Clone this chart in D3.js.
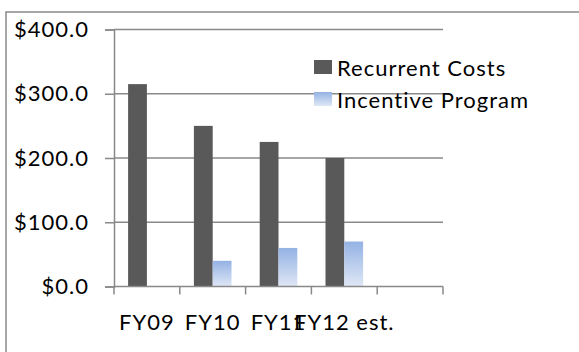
<!DOCTYPE html>
<html>
<head>
<meta charset="utf-8">
<script src="https://cdn.jsdelivr.net/npm/d3@7"></script>
<style>
  html, body { margin: 0; padding: 0; background: #fff; }
  svg { display: block; }
  text { font-family: Lato, "Open Sans", sans-serif; fill: #000; font-variant-ligatures: none; letter-spacing: 1px; }
</style>
</head>
<body>
<svg id="chart" width="579" height="352"></svg>
<script>
// Fiscal years (the last slot on the category axis is empty)
const categories = ["FY09", "FY10", "FY11", "FY12 est.", ""];
const recurrentCosts = [315, 250, 225, 200, null];
const incentiveProgram = [null, 40, 60, 70, null];
const yTicks = [0, 100, 200, 300, 400];
const seriesNames = ["Recurrent Costs", "Incentive Program"];

const svg = d3.select("#chart");
const gray = "#898989";

// Outer chart frame
svg.append("rect")
  .attr("x", 6).attr("y", 12)
  .attr("width", 640).attr("height", 400)
  .attr("fill", "#fff")
  .attr("stroke", gray).attr("stroke-width", 1.5);

const plot = { left: 114, right: 443, top: 29.5, bottom: 286.5 };

const x = d3.scaleBand()
  .domain(categories.map((d, i) => i))
  .range([plot.left, plot.right])
  .paddingInner(0).paddingOuter(0);

const y = d3.scaleLinear()
  .domain([0, 400])
  .range([plot.bottom, plot.top]);

// Each category holds two bars plus a 150% gap
const barW = x.bandwidth() / 3.5;
const gapW = barW * 0.75;

// Gradient for the incentive series
const defs = svg.append("defs");
const grad = defs.append("linearGradient")
  .attr("id", "incentiveFill")
  .attr("x1", 0).attr("y1", 0).attr("x2", 0).attr("y2", 1);
grad.append("stop").attr("offset", "0%").attr("stop-color", "#94b2e4");
grad.append("stop").attr("offset", "100%").attr("stop-color", "#dfe7f5");

// Horizontal gridlines
svg.append("g")
  .selectAll("line")
  .data(yTicks.filter(d => d > 0))
  .join("line")
  .attr("x1", plot.left).attr("x2", plot.right)
  .attr("y1", d => y(d)).attr("y2", d => y(d))
  .attr("stroke", gray).attr("stroke-width", 1.5);

// Y axis with outward ticks
const yAxis = svg.append("g")
  .attr("transform", `translate(${plot.left},0)`)
  .call(d3.axisLeft(y).tickValues(yTicks).tickSize(9).tickPadding(16)
    .tickFormat(d => "$" + d3.format(".1f")(d)));
yAxis.select(".domain").attr("stroke", gray).attr("stroke-width", 1.5);
yAxis.selectAll(".tick line").attr("stroke", gray).attr("stroke-width", 1.5);
yAxis.selectAll(".tick text")
  .style("font-family", "Lato, 'Open Sans', sans-serif")
  .style("font-size", "22px").attr("fill", "#000");

// Bars
const bars = svg.append("g");
bars.selectAll("rect.recurrent")
  .data(recurrentCosts.map((v, i) => ({ v, i })).filter(d => d.v != null))
  .join("rect")
  .attr("class", "recurrent")
  .attr("x", d => x(d.i) + gapW)
  .attr("width", barW)
  .attr("y", d => y(d.v))
  .attr("height", d => y(0) - y(d.v))
  .attr("fill", "#595959");

bars.selectAll("rect.incentive")
  .data(incentiveProgram.map((v, i) => ({ v, i })).filter(d => d.v != null))
  .join("rect")
  .attr("class", "incentive")
  .attr("x", d => x(d.i) + gapW + barW)
  .attr("width", barW)
  .attr("y", d => y(d.v))
  .attr("height", d => y(0) - y(d.v))
  .attr("fill", "url(#incentiveFill)");

// X axis with ticks between categories
const xEdges = categories.map((d, i) => x(i)).concat([plot.right]);
const xAxisG = svg.append("g");
xAxisG.append("line")
  .attr("x1", plot.left).attr("x2", plot.right)
  .attr("y1", y(0)).attr("y2", y(0))
  .attr("stroke", gray).attr("stroke-width", 1.5);
xAxisG.selectAll("line.tick")
  .data(xEdges)
  .join("line")
  .attr("class", "tick")
  .attr("x1", d => d).attr("x2", d => d)
  .attr("y1", y(0)).attr("y2", y(0) + 8)
  .attr("stroke", gray).attr("stroke-width", 1.5);
xAxisG.selectAll("text")
  .data(categories)
  .join("text")
  .attr("x", (d, i) => x(i) + x.bandwidth() / 2)
  .attr("y", 321)
  .attr("text-anchor", "middle")
  .attr("dominant-baseline", "central")
  .style("font-size", "22px")
  .text(d => d);

// Legend
const legendColors = ["#595959", "url(#incentiveFill)"];
const legend = svg.append("g");
seriesNames.forEach((name, i) => {
  const cy = 67 + i * 32;
  legend.append("rect")
    .attr("x", 314).attr("y", cy - 7)
    .attr("width", 18).attr("height", 14)
    .attr("fill", legendColors[i]);
  legend.append("text")
    .attr("x", 337).attr("y", cy)
    .attr("dominant-baseline", "central")
    .style("font-size", "22px")
    .text(name);
});
</script>
</body>
</html>
